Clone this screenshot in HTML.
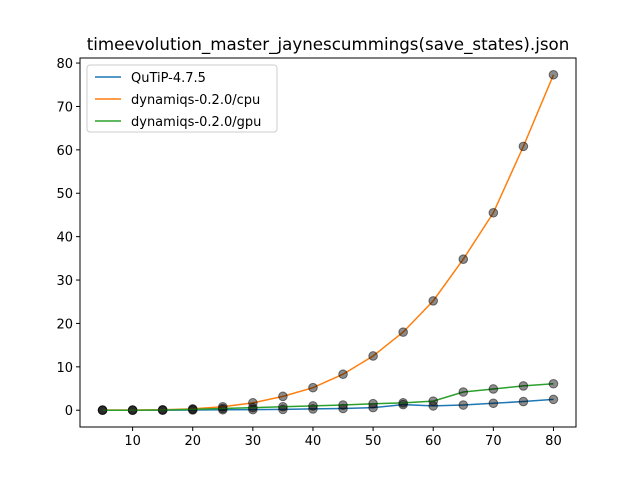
<!DOCTYPE html>
<html><head><meta charset="utf-8"><style>
body{margin:0;background:#fff}
svg{font-family:"DejaVu Sans","Liberation Sans",sans-serif}
</style></head><body>
<svg id="chart" width="640" height="480">
<rect width="640" height="480" fill="#fff"/>
<text x="328" y="50" font-size="16.7" text-anchor="middle">timeevolution_master_jaynescummings(save_states).json</text>
<g id="plot"></g>
<rect x="80" y="58" width="496" height="369" fill="none" stroke="#000" stroke-width="1"/>
<g>
<rect x="87" y="65" width="190" height="67" rx="3" fill="#fff" fill-opacity="0.8" stroke="#ccc"/>
<line x1="95" y1="77" x2="121" y2="77" stroke="#1f77b4" stroke-width="1.5"/>
<text x="131" y="82" font-size="13">QuTiP-4.7.5</text>
<line x1="95" y1="99" x2="121" y2="99" stroke="#ff7f0e" stroke-width="1.5"/>
<text x="131" y="104" font-size="13">dynamiqs-0.2.0/cpu</text>
<line x1="95" y1="121" x2="121" y2="121" stroke="#2ca02c" stroke-width="1.5"/>
<text x="131" y="126" font-size="13">dynamiqs-0.2.0/gpu</text>
</g>
</svg>
<script>
const sizes = [5,10,15,20,25,30,35,40,45,50,55,60,65,70,75,80];
const qutip = [0,0,0,0.05,0.1,0.15,0.2,0.3,0.4,0.6,1.3,1.0,1.2,1.6,2.0,2.5];
const cpu = [0.05,0.05,0.1,0.3,0.8,1.7,3.2,5.2,8.3,12.5,18,25.2,34.8,45.5,60.8,77.3];
const gpu = [0,0,0.05,0.2,0.4,0.6,0.8,1.0,1.2,1.5,1.7,2.1,4.2,4.9,5.6,6.1];
const xTicks = [10,20,30,40,50,60,70,80];
const yTicks = [0,10,20,30,40,50,60,70,80];

const NS = "http://www.w3.org/2000/svg";
const g = document.getElementById('plot');
const allY = qutip.concat(cpu, gpu);
const xmin0 = Math.min(...sizes), xmax0 = Math.max(...sizes);
const ymin0 = Math.min(...allY), ymax0 = Math.max(...allY);
const xm = (xmax0 - xmin0) * 0.05, ym = (ymax0 - ymin0) * 0.05;
const X0 = 80, X1 = 576, Y0 = 427, Y1 = 58;
function sx(v){ return X0 + (v - (xmin0 - xm)) / ((xmax0 + xm) - (xmin0 - xm)) * (X1 - X0); }
function sy(v){ return Y0 - (v - (ymin0 - ym)) / ((ymax0 + ym) - (ymin0 - ym)) * (Y0 - Y1); }
function mk(tag, attrs){ const e = document.createElementNS(NS, tag); for (const k in attrs) e.setAttribute(k, attrs[k]); g.appendChild(e); return e; }

xTicks.forEach(t => {
  const l = mk('line', {x1: sx(t), x2: sx(t), y1: Y0, y2: Y0 + 4, stroke: '#000'});
  
  
  const tx = mk('text', {x: sx(t), y: Y0 + 18, 'font-size': 13, 'text-anchor': 'middle'});
  tx.textContent = t;
  
  
});
yTicks.forEach(t => {
  const l = mk('line', {x1: X0 - 4, x2: X0, y1: sy(t), y2: sy(t), stroke: '#000'});
  
  
  const tx = mk('text', {x: X0 - 7, y: sy(t) + 5, 'font-size': 13, 'text-anchor': 'end'});
  tx.textContent = t;
  
  
});

const series = [[qutip, '#1f77b4', 'qutip'], [cpu, '#ff7f0e', 'cpu'], [gpu, '#2ca02c', 'gpu']];
series.forEach(([vals, col, nm]) => {
  const p = mk('polyline', {points: vals.map((v, i) => sx(sizes[i]) + ',' + sy(v)).join(' '), fill: 'none', stroke: col, 'stroke-width': 1.5});
  
  
  vals.forEach((v, i) => {
    const c = mk('circle', {cx: sx(sizes[i]), cy: sy(v), r: 4.3, fill: '#000', 'fill-opacity': 0.45, stroke: '#000', 'stroke-opacity': 0.5});
    
    
  });
});
</script>
</body></html>
